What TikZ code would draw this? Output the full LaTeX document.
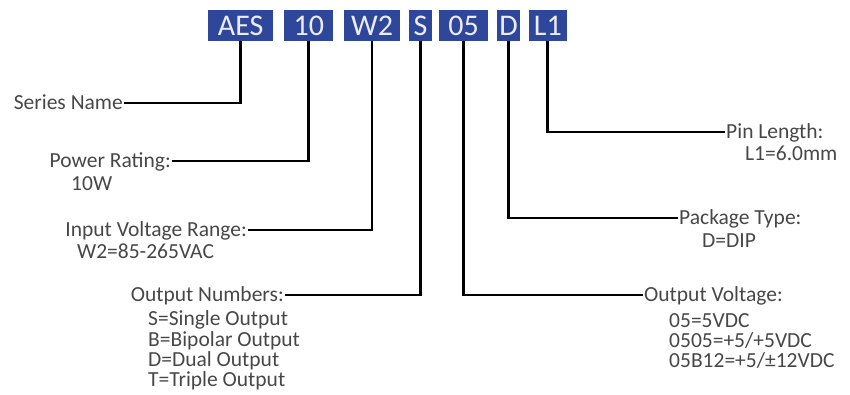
\documentclass[tikz,border=0pt]{standalone}
\usepackage{fontspec}
\setmainfont{Carlito}
\definecolor{codeblue}{RGB}{47,71,155}
\definecolor{codetext}{RGB}{236,236,244}

\begin{document}
\begin{tikzpicture}[
    x=1pt, y=-1pt,
    code/.style={fill=codeblue, text=codetext, minimum height=31pt, inner sep=0pt,
                font=\fontsize{30}{30}\selectfont},
    head/.style={inner xsep=1pt, inner ysep=0pt, text height=13.8pt, text depth=0pt,
                font=\fontsize{21.5}{24}\selectfont, text=black!72},
    detail/.style={inner sep=0pt, anchor=base west, font=\fontsize{21.5}{24}\selectfont,
                text=black!72},
    lead/.style={line width=2.8pt}
]
\useasboundingbox (0,0) rectangle (850,394);

% part number fields
\node[code, minimum width=65pt] (aes) at (240.7,25.5) {AES};
\node[code, minimum width=49pt] (pwr) at (308.8,25.5) {10};
\node[code, minimum width=56pt] (w2)  at (372,25.5) {W2};
\node[code, minimum width=23pt] (s)   at (420.5,25.5) {S};
\node[code, minimum width=49pt] (o5)  at (463.5,25.5) {05};
\node[code, minimum width=23pt] (d)   at (508.7,25.5) {D};
\node[code, minimum width=38pt] (l1)  at (547.8,25.5) {L1};

% left side
\node[head, anchor=east] (series) at (124,103) {Series Name};
\node[head, anchor=east] (power) at (172,161) {Power Rating:};
\node[detail] (powerval) at (71,190) {10W};
\node[head, anchor=east] (input) at (248,230) {Input Voltage Range:};
\node[detail] (inputval) at (77,258) {W2=85-265VAC};
\node[head, anchor=east] (outnum) at (285,295) {Output Numbers:};
\node[detail] (single) at (148,325) {S=Single Output};
\node[detail] (bipolar) at (148,346) {B=Bipolar Output};
\node[detail] (dual) at (148,366) {D=Dual Output};
\node[detail] (triple) at (148,386) {T=Triple Output};

% right side
\node[head, anchor=west] (pin) at (725,132) {Pin Length:};
\node[detail] (pinval) at (745,160) {L1=6.0mm};
\node[head, anchor=west] (pkg) at (678,218) {Package Type:};
\node[detail] (pkgval) at (702,247) {D=DIP};
\node[head, anchor=west] (outvolt) at (643,295) {Output Voltage:};
\node[detail] (v05) at (669,327) {05=5VDC};
\node[detail] (v0505) at (669,347) {0505=+5/+5VDC};
\node[detail] (v05b12) at (669,367) {05B12=+5/±12VDC};

% leaders
\draw[lead] (aes.south) |- (series.east);
\draw[lead] (pwr.south) |- (power.east);
\draw[lead] (w2.south) |- (input.east);
\draw[lead] (s.south) |- (outnum.east);
\draw[lead] (o5.south) |- (outvolt.west);
\draw[lead] (d.south) |- (pkg.west);
\draw[lead] (l1.south) |- (pin.west);
\end{tikzpicture}
\end{document}
